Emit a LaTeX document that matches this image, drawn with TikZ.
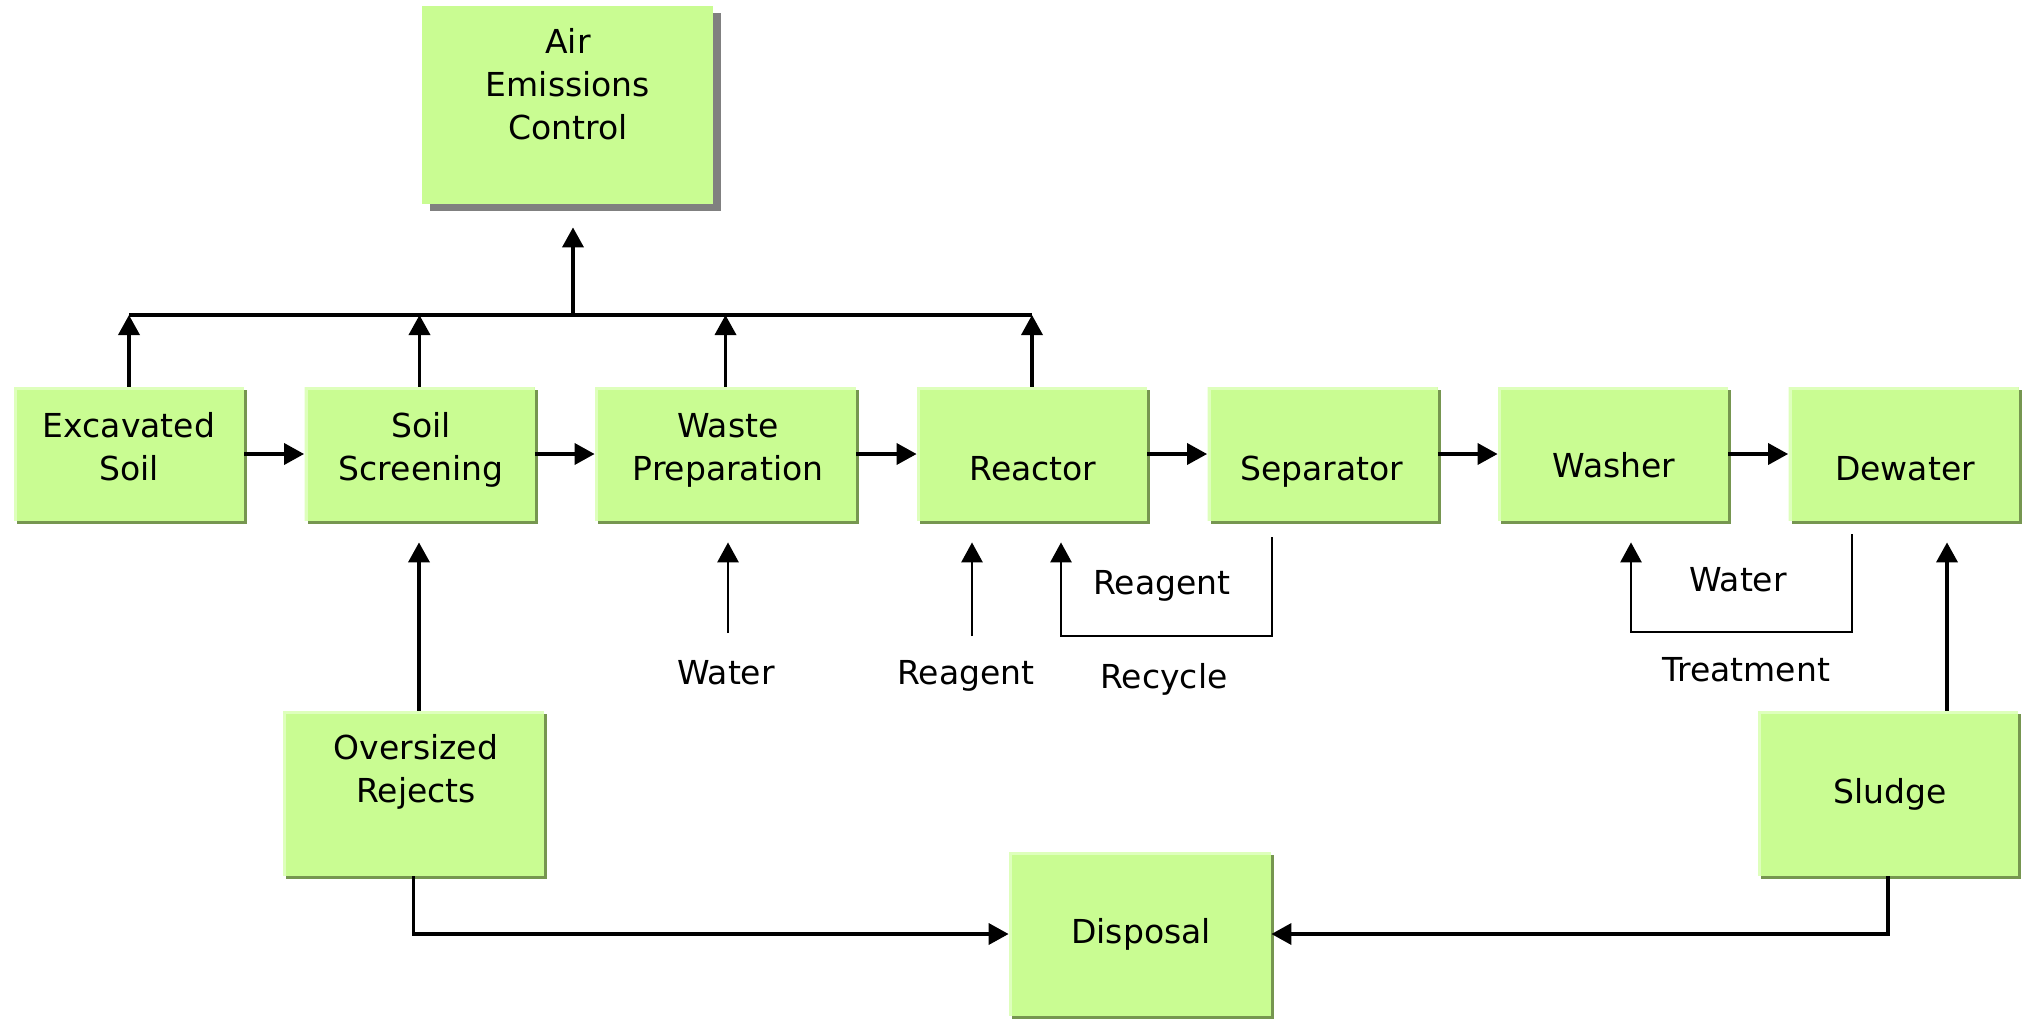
\documentclass[tikz,border=0pt]{standalone}
\usepackage{fontspec}
\setmainfont{DejaVu Sans}
\usetikzlibrary{arrows.meta,shadows}
\definecolor{boxfill}{RGB}{201,252,146}
\definecolor{hlgreen}{RGB}{222,255,188}
\definecolor{shgreen}{RGB}{118,150,80}
\definecolor{shgray}{RGB}{128,128,128}
\begin{document}
\begin{tikzpicture}[x=0.5pt,y=-0.5pt,
  procbox/.style={fill=boxfill, draw=none, inner sep=0pt,
    drop shadow={shadow xshift=1.5pt, shadow yshift=-1.5pt, fill=shgreen, opacity=1},
    path picture={\draw[hlgreen,line width=3pt] (path picture bounding box.south west) -- (path picture bounding box.north west) -- (path picture bounding box.north east);}},
  airbox/.style={fill=boxfill, draw=none, inner sep=0pt,
    drop shadow={shadow xshift=4pt, shadow yshift=-3.5pt, fill=shgray, opacity=1}},
  lbl/.style={align=center, text height=12pt, text depth=0pt, inner sep=0pt,
    font=\fontsize{16.5pt}{21.5pt}\selectfont},
  conn/.style={line width=1.8pt},
  arr/.style={line width=1.8pt, -{Triangle[length=10pt,width=10.5pt]}},
  tarr/.style={line width=1.4pt, -{Triangle[length=10pt,width=10.5pt]}}
]
\fill[white] (0,0) rectangle (2034,1022);
\useasboundingbox (0,0) rectangle (2034,1022);

% boxes
\node[airbox, minimum width=145.5pt, minimum height=99pt] (air) at (567,105) {};
\node[procbox, minimum width=115pt, minimum height=67pt] (exc) at (129,454) {};
\node[procbox, minimum width=115pt, minimum height=67pt] (scr) at (419.5,454) {};
\node[procbox, minimum width=130.5pt, minimum height=67pt] (wp) at (725.5,454) {};
\node[procbox, minimum width=115pt, minimum height=67pt] (reac) at (1032,454) {};
\node[procbox, minimum width=115pt, minimum height=67pt] (sep) at (1322.5,454) {};
\node[procbox, minimum width=115pt, minimum height=67pt] (wash) at (1613,454) {};
\node[procbox, minimum width=115pt, minimum height=67pt] (dew) at (1903.5,454) {};
\node[procbox, minimum width=130.5pt, minimum height=82.5pt] (ov) at (413.5,793.5) {};
\node[procbox, minimum width=131pt, minimum height=82pt] (disp) at (1140,934) {};
\node[procbox, minimum width=130pt, minimum height=82.5pt] (sl) at (1888,793.5) {};

% box texts (multi-line: y is the centre of the last line)
\node[lbl] (airT) at (568,128) {Air\\Emissions\\Control};
\node[lbl] (excT) at (129,468) {Excavated\\Soil};
\node[lbl] (scrT) at (421,468) {Soil\\Screening};
\node[lbl] (wpT) at (728,468) {Waste\\Preparation};
\node[lbl] (reacT) at (1033,468) {Reactor};
\node[lbl] (sepT) at (1322,468) {Separator};
\node[lbl] (washT) at (1614,465) {Washer};
\node[lbl] (dewT) at (1905,468) {Dewater};
\node[lbl] (ovT) at (416,790) {Oversized\\Rejects};
\node[lbl] (dispT) at (1141,931) {Disposal};
\node[lbl] (slT) at (1890,791) {Sludge};

% free labels
\node[lbl] (lwater) at (726,672) {Water};
\node[lbl] (lreag) at (966,672) {Reagent};
\node[lbl] (lreag2) at (1162,582) {Reagent};
\node[lbl] (lrec) at (1164,676) {Recycle};
\node[lbl] (lwater2) at (1738,579) {Water};
\node[lbl] (ltreat) at (1746,669) {Treatment};

% bus to air emissions
\coordinate (bus) at (0,315);
\draw[arr] (exc.north) -- (exc.north |- bus);
\draw[arr] (scr.north) -- (scr.north |- bus);
\draw[arr] (wp.north) -- (wp.north |- bus);
\draw[arr] (reac.north) -- (reac.north |- bus);
\draw[conn] (exc.north |- bus) -- (reac.north |- bus);
\coordinate (airin) at (573,315);
\draw[arr, shorten >=11.5pt] (airin) -- (airin |- air.south);

% main flow
\draw[arr] (exc) -- (scr);
\draw[arr] (scr) -- (wp);
\draw[arr] (wp) -- (reac);
\draw[arr] (reac) -- (sep);
\draw[arr] (sep) -- (wash);
\draw[arr] (wash) -- (dew);

% inputs below
\coordinate (watA) at (728,633);
\draw[tarr, shorten >=10.5pt] (watA) -- (watA |- wp.south);
\coordinate (reagA) at (972,636);
\draw[tarr, shorten >=10.5pt] (reagA) -- (reagA |- reac.south);
\coordinate (rcA) at (1272,537);
\coordinate (rcB) at (1061,636);
\draw[tarr, shorten >=10.5pt] (rcA) |- (rcB) -- (rcB |- reac.south);
\coordinate (trA) at (1852,534);
\coordinate (trB) at (1631,632);
\draw[tarr, shorten >=10.5pt] (trA) |- (trB) -- (trB |- wash.south);

% oversized and sludge
\coordinate (ovx) at (419,0);
\draw[arr, shorten >=10.5pt] (ov.north -| ovx) -- (ovx |- scr.south);
\coordinate (slx) at (1947,0);
\draw[arr, shorten >=10.5pt] (sl.north -| slx) -- (slx |- dew.south);
\draw[arr] (ov.south) |- (disp.west);
\draw[arr] (sl.south) |- (disp.east);
\end{tikzpicture}
\end{document}
